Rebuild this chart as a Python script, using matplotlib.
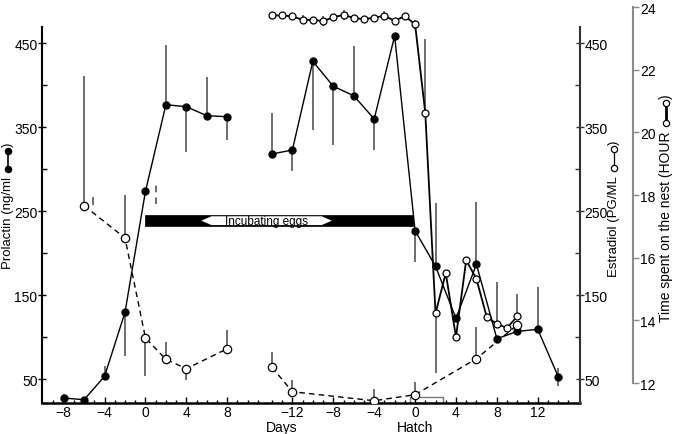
import numpy as np
import matplotlib
matplotlib.use("Agg")
import matplotlib.pyplot as plt
from matplotlib.patches import Polygon, Rectangle
from matplotlib.lines import Line2D

plt.rcParams['font.family'] = ['Liberation Sans', 'DejaVu Sans']

nan = np.nan
# ---------------- data ----------------
# Left block: days relative to egg laying
prl_l_days = [-8, -6, -4, -2, 0, 2, 4, 6, 8]
prl_l_vals = [27.7, 25.7, 53.6, 129.8, 273.8, 376.9, 374.5, 363.8, 362.6]
prl_l_lo = [27.7, nan, 53.6, 77.8, nan, 376.9, 320.0, 363.8, 334.9]
prl_l_hi = [32.5, nan, 65.5, 129.8, nan, 448.0, 374.5, 409.5, 362.6]

est_l_days = [-6, -2, 0, 2, 4, 8]
est_l_vals = [256.7, 218.2, 99.2, 73.8, 62.6, 86.4]
est_l_lo = [256.7, 218.2, 53.6, 73.8, 49.2, 86.4]
est_l_hi = [410.6, 269.5, 99.2, 94.8, 62.6, 109.0]

# Right block: days relative to hatch
prl_r_days = [-14, -12, -10, -8, -6, -4, -2, 0, 2, 4, 6, 8, 10, 12, 14]
prl_r_vals = [318.2, 323.0, 428.6, 398.8, 387.6, 359.9, 458.7, 226.9, 184.5,
              122.6, 186.9, 98.3, 107.1, 109.5, 53.1]
prl_r_lo = [318.2, 298.3, 346.8, 329.3, 387.6, 323.0, nan, 189.3, 184.5,
            nan, 186.9, nan, nan, 109.5, 42.4]
prl_r_hi = [367.0, 323.0, 428.6, 398.8, 447.1, 359.9, nan, 226.9, 260.0,
            nan, 261.4, nan, nan, 159.9, 63.5]

est_r_days = [-14, -12, -4, 0, 6, 10]
est_r_vals = [64.3, 35.2, 24.5, 31.7, 74.5, 115.0]
est_r_lo = [64.3, 35.2, 24.5, 31.7, 74.5, nan]
est_r_hi = [82.1, 49.2, 38.5, 46.4, 111.9, nan]

nest_days = [-14, -13, -12, -11, -10, -9, -8, -7, -6, -5, -4, -3, -2, -1, 0,
             1, 2, 3, 4, 5, 6, 7, 8, 9, 10]
nest_hours = [23.73, 23.73, 23.70, 23.59, 23.59, 23.55, 23.67, 23.75, 23.65,
              23.61, 23.66, 23.72, 23.56, 23.71, 23.45,
              20.61, 14.22, 15.51, 13.47, 15.92, 15.32, 14.12, 13.88, 13.76, 14.13]
nest_lo = [nan, nan, nan, 23.45, nan, 23.40, nan, 23.60, nan, nan, nan, 23.57,
           nan, nan, 23.30, 20.61, 12.31, nan, nan, nan, nan, nan, 13.88, nan, 14.13]
nest_hi = [nan, nan, nan, 23.73, nan, 23.70, nan, 23.90, nan, nan, nan, 23.87,
           nan, nan, 23.60, 22.98, 14.22, nan, nan, nan, nan, nan, 15.21, nan, 14.84]

# stray SE marks (left block, day, lo, hi)
mark_days = [-5.1, 1.0]
mark_lo = [257.5, 258.7]
mark_hi = [267.0, 281.0]

left_ticks = [-8, -4, 0, 4, 8]
right_ticks = [-12, -8, -4, 0, 4, 8, 12]
incub_start_day = 0      # left block
incub_end_hatch = -0.2   # right block
hatch_box = (-0.5, 2.7)  # right block days

# ---------------- layout ----------------
W, H = 673, 435
L, R, T, B = 42.3, 580, 8, 404
G = 26.37  # offset of hatch-referenced days on the shared x axis

fig = plt.figure(figsize=(W / 100, H / 100), dpi=100)
ax = fig.add_axes([L / W, (H - B) / H, (R - L) / W, (B - T) / H])
ax2 = ax.twinx()
ax3 = ax.twinx()

YL = (21.8, 493.2)
ax.set_xlim(-10.09, 42.5)
ax.set_ylim(*YL)
ax2.set_ylim(*YL)
ax3.set_ylim(11.362, 24)

def xr(d):
    return np.asarray(d, float) + G

def xl(d):
    return np.asarray(d, float)

# spines
for s in ['top', 'right']:
    ax.spines[s].set_visible(False)
ax.spines['left'].set_bounds(21.8, 469.4)
ax.spines['left'].set_linewidth(1.5)
ax.spines['bottom'].set_linewidth(1.8)
for s in ['top', 'left', 'bottom']:
    ax2.spines[s].set_visible(False)
    ax3.spines[s].set_visible(False)
ax2.spines['right'].set_bounds(21.8, 469.4)
ax2.spines['right'].set_linewidth(1.5)
ax2.spines['right'].set_color('#333333')
ax3.spines['right'].set_position(('axes', (633 - L) / (R - L)))
ax3.spines['right'].set_bounds(12, 24)
ax3.spines['right'].set_color('#8a8a8a')
ax3.spines['right'].set_linewidth(1.5)

# ticks
ax.set_yticks([50, 150, 250, 350, 450])
ax.set_yticks([100, 200, 300, 400], minor=True)
ax.tick_params(axis='y', which='major', direction='inout', length=6, width=1,
               labelsize=10, pad=0.5)
ax.tick_params(axis='y', which='minor', direction='in', length=3.5, width=1)
ax2.set_yticks([50, 150, 250, 350, 450])
ax2.set_yticks([100, 200, 300, 400], minor=True)
ax2.tick_params(axis='y', which='major', direction='inout', length=6, width=1,
                labelsize=10, pad=0, color='#333333')
ax2.tick_params(axis='y', which='minor', direction='in', length=3.5, width=1,
                color='#333333')
ax3.set_yticks([12, 14, 16, 18, 20, 22, 24])
ax3.tick_params(axis='y', which='major', direction='out', length=4, width=1,
                labelsize=10, pad=1, color='#8a8a8a')

def fmt(v):
    return str(v).replace('-', '\u2212')

xt = list(xl(left_ticks)) + list(xr(right_ticks))
ax.set_xticks(xt)
ax.set_xticklabels([fmt(v) for v in left_ticks] + [fmt(v) for v in right_ticks])
minor = [d for d in range(-9, 12) if d not in left_ticks]
minor_r = [d + G for d in range(-14, 16) if d not in right_ticks]
ax.set_xticks(minor + minor_r, minor=True)
ax.tick_params(axis='x', which='major', direction='in', length=4, width=1,
               labelsize=10, pad=1.5)
ax.tick_params(axis='x', which='minor', direction='in', length=2.5, width=1)

ax.text(13.35, -0.042, 'Days', transform=ax.get_xaxis_transform(),
        ha='center', va='top', fontsize=10)
ax.text(G, -0.042, 'Hatch', transform=ax.get_xaxis_transform(),
        ha='center', va='top', fontsize=10)

# ---------------- incubating bar ----------------
bx0, bx1 = xl(incub_start_day), xr(incub_end_hatch)
ax.add_patch(Rectangle((bx0, 232.1), bx1 - bx0, 13.5, facecolor='black',
                       edgecolor='black', lw=0.5, zorder=2))
ax0, ax1_, hd = 5.46, 18.23, 1.0
ya, yb = 233.6, 244.1
ym = (ya + yb) / 2
ax.add_patch(Polygon([(ax0, ym), (ax0 + hd, yb), (ax1_ - hd, yb), (ax1_, ym),
                      (ax1_ - hd, ya), (ax0 + hd, ya)], closed=True,
                     facecolor='white', edgecolor='none', zorder=2.5))
ax.text((ax0 + ax1_) / 2, ym, 'Incubating eggs', ha='center', va='center',
        fontsize=8.5, zorder=3)

# hatch box
ax.add_patch(Rectangle((xr(hatch_box[0]), YL[0]), hatch_box[1] - hatch_box[0],
                       28.4 - YL[0], facecolor='none', edgecolor='#777777',
                       lw=1.0, zorder=2, clip_on=False))

# ---------------- error bars ----------------
ebc = '#555555'
ax.vlines(xl(prl_l_days), prl_l_lo, prl_l_hi, color=ebc, lw=1.2, zorder=2)
ax.vlines(xr(prl_r_days), prl_r_lo, prl_r_hi, color=ebc, lw=1.2, zorder=2)
ax2.vlines(xl(est_l_days), est_l_lo, est_l_hi, color=ebc, lw=1.2, zorder=2)
ax2.vlines(xr(est_r_days), est_r_lo, est_r_hi, color=ebc, lw=1.2, zorder=2)
ax3.vlines(xr(nest_days), nest_lo, nest_hi, color=ebc, lw=1.2, zorder=2)
ax.vlines(xl(mark_days[:1]), mark_lo[:1], mark_hi[:1], color=ebc, lw=1.2)
ax.vlines(xl(mark_days[1:]), mark_lo[1:], mark_hi[1:], color=ebc, lw=1.2,
          linestyles=[(0, (4, 3))])

# ---------------- series ----------------
pk = dict(color='black', lw=1.0, marker='o', ms=5, mfc='black', mec='black',
          zorder=4)
ax.plot(xl(prl_l_days), prl_l_vals, **pk)
ax.plot(xr(prl_r_days), prl_r_vals, **pk)

ek = dict(color='black', lw=1.0, ls=(0, (4, 3)), marker='o', ms=6,
          mfc='white', mec='black', mew=0.9, zorder=4)
ax2.plot(xl(est_l_days), est_l_vals, **ek)
ax2.plot(xr(est_r_days), est_r_vals, **ek)

ax3.plot(xr(nest_days), nest_hours, color='black', lw=1.3, marker='o', ms=5,
         mfc='white', mec='black', mew=0.9, zorder=5)

# ---------------- axis labels with legend glyphs ----------------
def vlabel(xpx, y_glyph_bot, y_glyph_top, text, fs, mfc, lw):
    # text ends just below the glyph (image px measured from the top)
    fig.text(xpx / W, (H - (y_glyph_bot + 7)) / H, text, rotation=90,
             ha='center', va='top', fontsize=fs)
    fig.add_artist(Line2D([xpx / W, xpx / W],
                          [(H - y_glyph_bot) / H, (H - y_glyph_top) / H],
                          transform=fig.transFigure, color='black', lw=lw,
                          marker='o', ms=4.5, mfc=mfc, mec='black', mew=0.9))
    fig.text(xpx / W, (H - (y_glyph_top - 5)) / H, ')', rotation=90,
             ha='center', va='bottom', fontsize=fs)

vlabel(8, 170, 152, 'Prolactin (ng/ml', 9.5, 'black', 1.2)
vlabel(614, 169, 150, 'Estradiol (PG/ML', 9.5, 'white', 0.9)
vlabel(666, 124, 104, 'Time spent on the nest (HOUR', 10, 'white', 2.0)

fig.savefig('out.png', dpi=100)
